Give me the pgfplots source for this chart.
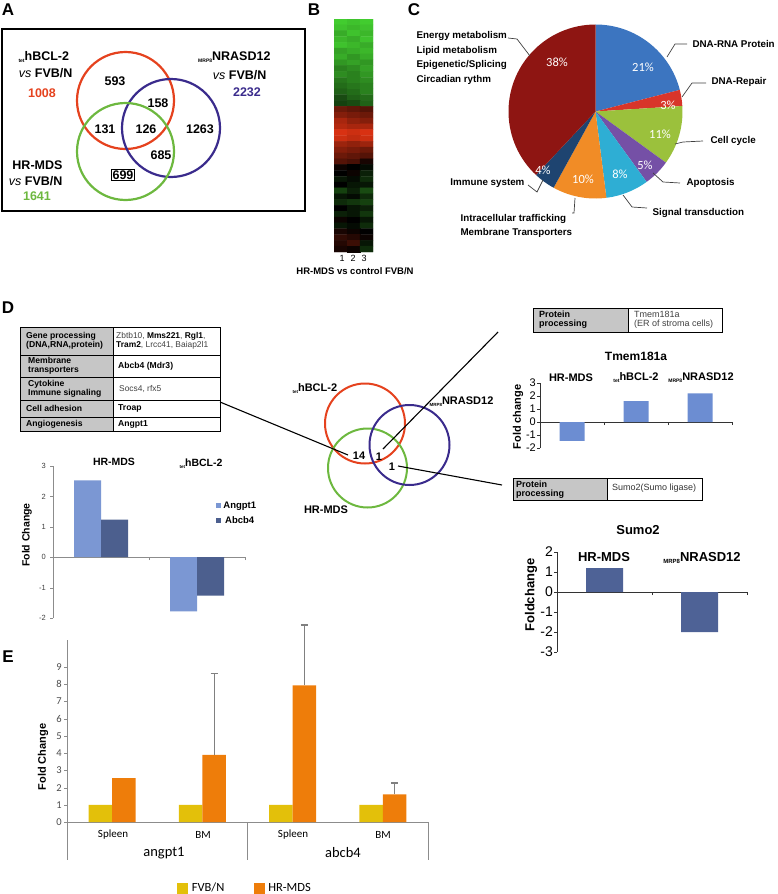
\documentclass[border=0pt]{standalone}
\usepackage{pgfplots}
\pgfplotsset{compat=1.18}
\usepackage{fontspec}
\setmainfont{Liberation Sans}
\newfontfamily\calfont{Carlito}
\newcommand\F[1]{\fontsize{#1}{#1}\selectfont}
\pgfplotsset{/pgf/number format/assume math mode=true}

\definecolor{vred}{HTML}{E5421E}
\definecolor{vpur}{HTML}{3A2B8C}
\definecolor{vgrn}{HTML}{6DB83F}
\definecolor{pblue}{HTML}{3C75C0}
\definecolor{pred}{HTML}{D8352A}
\definecolor{plime}{HTML}{9BC13C}
\definecolor{ppur}{HTML}{7550A6}
\definecolor{pcyan}{HTML}{2EAED4}
\definecolor{porg}{HTML}{F18C26}
\definecolor{pnavy}{HTML}{1E4470}
\definecolor{pdred}{HTML}{8E1512}
\definecolor{tbar}{HTML}{6C8DD2}
\definecolor{sbar}{HTML}{4E6296}
\definecolor{ang}{HTML}{7B97D3}
\definecolor{abc}{HTML}{4C5F8E}
\definecolor{fvb}{HTML}{E3C00A}
\definecolor{hrm}{HTML}{EE7D0A}
\definecolor{tgrey}{HTML}{C6C6C6}
\definecolor{axgrey}{HTML}{8C8C8C}

% pie shares (percent), clockwise from 12 o'clock
\def\pr{87}
\pgfmathsetmacro\aA{90}
\pgfmathsetmacro\aB{\aA-21*3.6}
\pgfmathsetmacro\aC{\aB-3*3.6}
\pgfmathsetmacro\aD{\aC-11*3.6}
\pgfmathsetmacro\aE{\aD-5*3.6}
\pgfmathsetmacro\aF{\aE-8*3.6}
\pgfmathsetmacro\aG{\aF-10*3.6}
\pgfmathsetmacro\aH{\aG-4*3.6}
\pgfmathsetmacro\aI{\aH-38*3.6}
\newcommand\slice[3]{\fill[#1] (0,0) -- ({\pr*cos(#2)},{\pr*sin(#2)}) arc[start angle=#2, end angle=#3, radius=\pr pt] -- cycle;}

\begin{document}
\begin{tikzpicture}[x=1pt,y=1pt]
\useasboundingbox (0,0) rectangle (778,-894);

% ---------------- A ----------------
\node[font=\bfseries\F{17}] at (8,-10) {A};
\draw[line width=1.1] (2,-29) rectangle (305,-211);
\draw[vred, line width=2.2] (125.5,-100.5) circle (48.5);
\draw[vpur, line width=2.2] (171,-128) circle (49);
\draw[vgrn, line width=2.2] (125.5,-151.5) circle (48.5);
\begin{scope}[font=\bfseries\F{12.5}]
\node at (115,-81) {593};
\node at (158,-103) {158};
\node at (105,-129) {131};
\node at (146,-129) {126};
\node at (200,-129) {1263};
\node at (161,-155) {685};
\node[draw, line width=1, inner sep=1.5pt] at (123,-175) {699};
\node[anchor=west] at (15,-57) {\raisebox{-2pt}{\F{5}tet}hBCL-2};
\node[anchor=east] at (76,-73) {{\mdseries\itshape vs} FVB/N};
\node[vred] at (42,-93) {1008};
\node[anchor=east] at (274,-57) {\raisebox{-2pt}{\F{5}MRP8}NRASD12};
\node[anchor=east] at (270,-75) {{\mdseries\itshape vs} FVB/N};
\node[vpur] at (247,-92) {2232};
\node[anchor=east] at (66,-165) {HR-MDS};
\node[anchor=east] at (66,-181) {{\mdseries\itshape vs} FVB/N};
\node[vgrn] at (37,-196) {1641};
\end{scope}

% ---------------- B ----------------
\node[font=\bfseries\F{17}] at (314,-10) {B};
\begin{axis}[at={(334pt,-252pt)}, anchor=south west, scale only axis,
  width=39pt, height=233pt, hide axis, xmin=0.5, xmax=3.5, ymin=0.5, ymax=40.5,
  y dir=reverse, point meta min=-1, point meta max=1,
  colormap={rg}{rgb255(0cm)=(70,215,50); rgb255(1cm)=(0,0,0); rgb255(2cm)=(240,55,20)}]
\addplot[matrix plot*, mesh/cols=3, point meta=explicit] table[row sep=\\, meta=c] {
x y c\\
1 1 -0.95\\ 2 1 -0.9\\ 3 1 -0.95\\
1 2 -0.9\\ 2 2 -0.85\\ 3 2 -0.9\\
1 3 -0.8\\ 2 3 -0.9\\ 3 3 -0.85\\
1 4 -0.85\\ 2 4 -0.8\\ 3 4 -0.9\\
1 5 -0.9\\ 2 5 -0.85\\ 3 5 -0.8\\
1 6 -0.75\\ 2 6 -0.8\\ 3 6 -0.85\\
1 7 -0.8\\ 2 7 -0.7\\ 3 7 -0.8\\
1 8 -0.7\\ 2 8 -0.75\\ 3 8 -0.7\\
1 9 -0.6\\ 2 9 -0.65\\ 3 9 -0.75\\
1 10 -0.65\\ 2 10 -0.6\\ 3 10 -0.7\\
1 11 -0.55\\ 2 11 -0.6\\ 3 11 -0.65\\
1 12 -0.5\\ 2 12 -0.55\\ 3 12 -0.6\\
1 13 -0.45\\ 2 13 -0.5\\ 3 13 -0.6\\
1 14 -0.35\\ 2 14 -0.45\\ 3 14 -0.5\\
1 15 -0.3\\ 2 15 -0.35\\ 3 15 -0.45\\
1 16 0.45\\ 2 16 0.4\\ 3 16 0.35\\
1 17 0.55\\ 2 17 0.5\\ 3 17 0.45\\
1 18 0.7\\ 2 18 0.6\\ 3 18 0.55\\
1 19 0.75\\ 2 19 0.7\\ 3 19 0.7\\
1 20 0.9\\ 2 20 0.85\\ 3 20 0.9\\
1 21 0.85\\ 2 21 0.8\\ 3 21 0.85\\
1 22 0.65\\ 2 22 0.6\\ 3 22 0.65\\
1 23 0.55\\ 2 23 0.5\\ 3 23 0.45\\
1 24 0.45\\ 2 24 0.4\\ 3 24 0.35\\
1 25 0.35\\ 2 25 0.3\\ 3 25 0.1\\
1 26 0.05\\ 2 26 0\\ 3 26 -0.05\\
1 27 0\\ 2 27 0.05\\ 3 27 -0.15\\
1 28 -0.1\\ 2 28 -0.05\\ 3 28 -0.2\\
1 29 0\\ 2 29 -0.1\\ 3 29 -0.1\\
1 30 -0.3\\ 2 30 -0.15\\ 3 30 -0.35\\
1 31 -0.1\\ 2 31 -0.05\\ 3 31 -0.2\\
1 32 -0.2\\ 2 32 -0.25\\ 3 32 -0.3\\
1 33 0\\ 2 33 -0.1\\ 3 33 -0.15\\
1 34 -0.15\\ 2 34 -0.1\\ 3 34 -0.25\\
1 35 0.05\\ 2 35 0\\ 3 35 -0.1\\
1 36 -0.1\\ 2 36 -0.05\\ 3 36 -0.2\\
1 37 0.1\\ 2 37 0.05\\ 3 37 0\\
1 38 0.2\\ 2 38 0.15\\ 3 38 0.05\\
1 39 0.15\\ 2 39 0.25\\ 3 39 -0.1\\
1 40 0.1\\ 2 40 0.05\\ 3 40 -0.2\\
};
\end{axis}
\node[font=\F{9}] at (342,-258) {1};
\node[font=\F{9}] at (353,-258) {2};
\node[font=\F{9}] at (364,-258) {3};
\node[font=\bfseries\F{9.5}] at (355,-271) {HR-MDS vs control FVB/N};

% ---------------- C ----------------
\node[font=\bfseries\F{17}] at (414,-10) {C};
\begin{axis}[at={(595.5pt,-111.5pt)}, anchor=center, x=1pt, y=1pt,
  xmin=-90, xmax=90, ymin=-90, ymax=90, hide axis, clip=false]
\slice{pblue}{\aA}{\aB}
\slice{pred}{\aB}{\aC}
\slice{plime}{\aC}{\aD}
\slice{ppur}{\aD}{\aE}
\slice{pcyan}{\aE}{\aF}
\slice{porg}{\aF}{\aG}
\slice{pnavy}{\aG}{\aH}
\slice{pdred}{\aH}{\aI}
\end{axis}
\begin{scope}[font=\calfont\F{12.5}, text=white]
\node at (557,-62) {38\%};
\node at (643,-67) {21\%};
\node at (668,-105) {3\%};
\node at (660,-134) {11\%};
\node at (645,-165) {5\%};
\node at (620,-174) {8\%};
\node at (583,-179) {10\%};
\node at (543,-170) {4\%};
\end{scope}
\begin{scope}[draw=black!75, line width=0.7]
\draw (508,-38) -- (517,-39) -- (530,-56);
\draw (687,-44) -- (675,-44) -- (667,-57);
\draw (706,-83) -- (692,-83) -- (682,-97);
\draw (703,-141) -- (683,-142) -- (675,-144);
\draw (680,-183) -- (663,-182) -- (653,-173);
\draw (647,-208) -- (632,-207) -- (623,-195);
\draw (572,-213) -- (574,-213) -- (575,-198);
\draw (528,-185) -- (537,-192) -- (543,-180);
\end{scope}
\begin{scope}[font=\bfseries\F{9.8}]
\node[anchor=west] at (413,-36) {Energy metabolism};
\node[anchor=west] at (413,-51) {Lipid metabolism};
\node[anchor=west] at (413,-65) {Epigenetic/Splicing};
\node[anchor=west] at (413,-80) {Circadian rythm};
\node[anchor=west] at (689,-44) {DNA-RNA Protein};
\node[anchor=west] at (708,-82) {DNA-Repair};
\node[anchor=west] at (707,-141) {Cell cycle};
\node[anchor=west] at (683,-183) {Apoptosis};
\node[anchor=west] at (649,-213) {Signal transduction};
\node[anchor=west] at (457,-219) {Intracellular trafficking};
\node[anchor=west] at (457,-233) {Membrane Transporters};
\node[anchor=east] at (528,-183) {Immune system};
\end{scope}

% ---------------- D ----------------
\node[font=\bfseries\F{17}] at (8,-308) {D};
% table
\fill[tgrey] (20,-327) rectangle (113,-431);
\draw[line width=0.8] (20,-327) rectangle (220,-431);
\draw[line width=0.8] (113,-327) -- (113,-431);
\foreach \yy in {355,377,400,417} \draw[line width=0.8] (20,-\yy) -- (220,-\yy);
\begin{scope}[font=\bfseries\F{8.6}, anchor=west, align=left, inner sep=0pt]
\node at (26,-341) {Gene processing\\(DNA,RNA,protein)};
\node at (28,-366) {Membrane\\transporters};
\node at (28,-388.5) {Cytokine\\Immune signaling};
\node at (26,-408.5) {Cell adhesion};
\node at (26,-424) {Angiogenesis};
\end{scope}
\begin{scope}[font=\F{8.4}, anchor=west, align=left, inner sep=0pt]
\node[text=black!75] at (116,-341) {Zbtb10, \textcolor{black}{\bfseries Mms221}, \textcolor{black}{\bfseries Rgl1},\\\textcolor{black}{\bfseries Tram2}, Lrcc41, Baiap2l1};
\node[font=\bfseries\F{8.6}] at (118,-366) {Abcb4 (Mdr3)};
\node[text=black!75] at (119,-388.5) {Socs4, rfx5};
\node[font=\bfseries\F{8.6}] at (118,-408.5) {Troap};
\node[font=\bfseries\F{8.6}] at (118,-424) {Angpt1};
\end{scope}
% venn
\draw[vred, line width=2] (365,-423.5) circle (40);
\draw[vgrn, line width=2] (367.5,-468) circle (39.5);
\draw[vpur, line width=2] (409.5,-445) circle (40);
\draw[line width=1.1] (220,-402) -- (348,-455);
\draw[line width=1.1] (383,-449) -- (498,-332);
\draw[line width=1.1] (398,-466) -- (502,-485);
\begin{scope}[font=\bfseries\F{11}]
\node at (359,-456) {14};
\node at (379,-457) {1};
\node at (392,-467) {1};
\node[anchor=west] at (289,-389) {\raisebox{-2pt}{\F{4.5}tet}hBCL-2};
\node[anchor=west] at (426,-402) {\raisebox{-2pt}{\F{4.5}MRP8}NRASD12};
\node at (326,-510) {HR-MDS};
\end{scope}
% Tmem181a box
\fill[tgrey] (533,-308) rectangle (628,-332);
\draw[line width=0.8] (533,-308) rectangle (722,-332);
\draw[line width=0.8] (628,-308) -- (628,-332);
\node[font=\bfseries\F{9}, anchor=west, align=left, inner sep=0pt] at (539,-320) {Protein\\processing};
\node[font=\F{9}, text=black!75, anchor=west, align=left, inner sep=0pt] at (634,-320) {Tmem181a\\(ER of stroma cells)};
% Sumo2 box
\fill[tgrey] (513,-478) rectangle (607,-500);
\draw[line width=0.8] (513,-478) rectangle (702,-500);
\draw[line width=0.8] (607,-478) -- (607,-500);
\node[font=\bfseries\F{9}, anchor=west, align=left, inner sep=0pt] at (516,-489.5) {Protein\\processing};
\node[font=\F{9}, text=black!80, anchor=west, inner sep=0pt] at (612,-488) {Sumo2(Sumo ligase)};

% Tmem181a chart
\begin{axis}[at={(540pt,-448pt)}, anchor=south west, scale only axis,
  width=192pt, height=65pt, xmin=0.5, xmax=3.5, ymin=-2, ymax=3,
  axis y line*=left, axis x line*=middle, ytick={-2,-1,0,1,2,3},
  xtick={1.5,2.5,3.5}, xticklabels={}, tick align=outside, major tick length=3pt,
  y tick label style={font=\F{11}, inner sep=1pt}, axis line style={black!80},
  tick style={black!80}, ybar=0pt, bar width=25pt, clip=false]
\addplot[fill=tbar, draw=none] coordinates {(1,-1.45) (2,1.6) (3,2.2)};
\end{axis}
\node[font=\bfseries\F{12}] at (636,-356) {Tmem181a};
\begin{scope}[font=\bfseries\F{11}]
\node at (571,-378) {HR-MDS};
\node at (636,-378) {\raisebox{-2pt}{\F{5}tet}hBCL-2};
\node at (701,-378) {\raisebox{-2pt}{\F{5}MRP8}NRASD12};
\node[rotate=90] at (518,-417) {Fold change};
\end{scope}

% Sumo2 chart
\begin{axis}[at={(557pt,-652pt)}, anchor=south west, scale only axis,
  width=190pt, height=100pt, xmin=0.5, xmax=2.5, ymin=-3, ymax=2,
  axis y line*=left, axis x line*=middle, ytick={-3,-2,-1,0,1,2},
  xtick={1.5,2.5}, xticklabels={}, tick align=outside, major tick length=3pt,
  y tick label style={font=\F{14}, inner sep=1pt}, axis line style={black!80},
  tick style={black!80}, ybar=0pt, bar width=37pt, clip=false]
\addplot[fill=sbar, draw=none] coordinates {(1,1.2) (2,-2.0)};
\end{axis}
\begin{scope}[font=\bfseries\F{13}]
\node at (638,-530) {Sumo2};
\node at (604,-557) {HR-MDS};
\node at (702,-558) {\raisebox{-2pt}{\F{6}MRP8}NRASD12};
\node[rotate=90] at (531,-595) {Foldchange};
\end{scope}

% Angpt1 / Abcb4 chart
\begin{axis}[at={(53pt,-618pt)}, anchor=south west, scale only axis,
  width=192pt, height=152pt, xmin=0.5, xmax=2.5, ymin=-2, ymax=3,
  axis y line*=left, axis x line*=middle, ytick={-2,-1,0,1,2,3},
  xtick={1.5,2.5}, xticklabels={}, tick align=outside, major tick length=3pt,
  y tick label style={font=\F{7.5}, text=black!75, inner sep=4pt},
  axis line style={axgrey}, tick style={axgrey}, ybar=0pt, bar width=27pt, clip=false,
  legend style={at={(0.85,0.78)}, anchor=north west, draw=none, fill=none,
    font=\bfseries\F{9.5}, row sep=3pt, inner sep=0pt},
  legend image code/.code={\fill[#1,draw=none] (0pt,-2.5pt) rectangle (5pt,2.5pt);}]
\addplot[fill=ang, draw=none] coordinates {(1,2.53) (2,-1.78)};
\addplot[fill=abc, draw=none] coordinates {(1,1.24) (2,-1.26)};
\legend{Angpt1,Abcb4}
\end{axis}
\begin{scope}[font=\bfseries\F{10.5}]
\node at (114,-462) {HR-MDS};
\node at (201,-464) {\raisebox{-2pt}{\F{4.5}tet}hBCL-2};
\node[rotate=90] at (27,-535) {Fold Change};
\end{scope}

% ---------------- E ----------------
\node[font=\bfseries\F{17}] at (8,-657) {E};
\begin{axis}[at={(67pt,-822pt)}, anchor=south west, scale only axis,
  width=361pt, height=182pt, xmin=0.5, xmax=4.5, ymin=0, ymax=10.58,
  axis y line*=left, axis x line*=bottom, ytick={0,...,9}, xtick=\empty,
  tick align=outside, major tick length=3pt,
  y tick label style={font=\calfont\F{10.5}, text=black!70, inner sep=2pt},
  axis line style={axgrey, line width=0.9}, tick style={axgrey}, ybar=0pt, bar width=23.5pt, clip=false,
  legend style={at={(0.305,-0.363)}, anchor=west, draw=none, fill=none,
    font=\calfont\F{12.5}, legend columns=2, inner sep=0pt,
    nodes={inner sep=3.5pt}},
  legend image code/.code={\fill[#1,draw=none] (0pt,-5.5pt) rectangle (11pt,5.5pt);}]
\addplot[fill=fvb, draw=none, bar shift=-11.75pt] coordinates {(1,1) (2,1) (3,1) (4,1)};
\addplot[fill=hrm, draw=none, bar shift=11.75pt] coordinates {(1,2.55) (2,3.9) (3,7.95) (4,1.6)};
\addplot[fill=none, draw=none, bar shift=11.75pt, forget plot, error bars/.cd, y dir=plus, y explicit,
  error bar style={line width=1.2pt, color=gray},
  error mark options={rotate=90, mark size=3.5pt, line width=1.2pt, color=gray}]
  coordinates {(2,3.9) +- (0,4.75) (3,7.95) +- (0,3.5) (4,1.6) +- (0,0.67)};
\legend{\mbox{FVB/N\rule{26pt}{0pt}},HR-MDS}
\draw[axgrey, line width=0.9] (axis cs:0.5,0) -- (axis cs:0.5,-2.2);
\draw[axgrey, line width=0.9] (axis cs:2.5,0) -- (axis cs:2.5,-2.2);
\draw[axgrey, line width=0.9] (axis cs:4.5,0) -- (axis cs:4.5,-2.2);
\end{axis}
\begin{scope}[font=\calfont\F{11}]
\node at (113,-835) {Spleen};
\node at (203,-835) {BM};
\node at (293,-835) {Spleen};
\node at (383,-835) {BM};
\node[font=\calfont\F{14.5}] at (164,-853) {angpt1};
\node[font=\calfont\F{14.5}] at (343,-853) {abcb4};
\end{scope}
\node[font=\bfseries\F{11}, rotate=90] at (43,-757) {Fold Change};

\end{tikzpicture}
\end{document}
